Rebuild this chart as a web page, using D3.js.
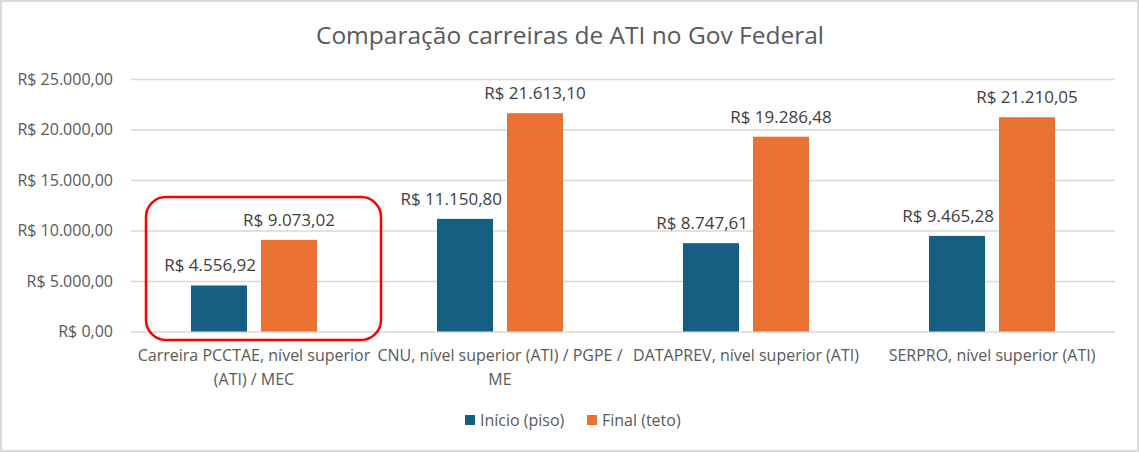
<!DOCTYPE html>
<html><head><meta charset="utf-8">
<script src="https://cdn.jsdelivr.net/npm/d3@7"></script>
<style>body{margin:0;background:#fff}svg{display:block;font-family:"Open Sans",sans-serif}</style>
</head><body><svg id="c" width="1139" height="452"></svg>
<script>
const categories = ["Carreira PCCTAE, nível superior (ATI) / MEC","CNU, nível superior (ATI) / PGPE / ME","DATAPREV, nível superior (ATI)","SERPRO, nível superior (ATI)"];
const seriesNames = ["Início (piso)","Final (teto)"];
const inicio = [4556.92, 11150.80, 8747.61, 9465.28];
const final_ = [9073.02, 21613.10, 19286.48, 21210.05];
const yTicks = [0,5000,10000,15000,20000,25000];
const colors = ["#156082","#E97132"];

const svg = d3.select("#c");
const W=1139,H=452;
svg.append("rect").attr("x",1).attr("y",1).attr("width",W-2).attr("height",H-2).attr("fill","#fff").attr("stroke","#d9d9d9").attr("stroke-width",2);

const x = d3.scaleBand().domain(categories).range([131,1115]);
const y = d3.scaleLinear().domain([0,25000]).range([331.5,79]);
const x1 = d3.scaleBand().domain(seriesNames).range([60,186]).paddingInner(0.2);

const fmt = v => "R$ " + d3.formatLocale({decimal:",",thousands:".",grouping:[3],currency:["",""]}).format(",.2f")(v);

svg.append("text").attr("x",570).attr("y",44).attr("text-anchor","middle").attr("font-size",24.5).attr("fill","#595959").text("Comparação carreiras de ATI no Gov Federal");

const yAxis = svg.append("g").attr("transform","translate(131,0)")
  .call(d3.axisLeft(y).tickValues(yTicks).tickSize(-984).tickPadding(18).tickFormat(fmt));
yAxis.select(".domain").remove();
yAxis.selectAll("line").attr("stroke","#d9d9d9").attr("stroke-width",1.5);
yAxis.selectAll("text").attr("font-size",16).attr("fill","#595959").attr("font-family","Open Sans");

const data = categories.map((c,i)=>({c, vals:[inicio[i], final_[i]]}));
const g = svg.selectAll(".cat").data(data).join("g").attr("transform",d=>`translate(${x(d.c)},0)`);
const items = d=>d.vals.map((v,j)=>({v,s:seriesNames[j],j}));
g.selectAll("rect").data(items).join("rect")
  .attr("x",d=>x1(d.s)).attr("width",x1.bandwidth()).attr("y",d=>y(d.v)).attr("height",d=>y(0)-y(d.v)).attr("fill",d=>colors[d.j]);
g.selectAll("text.lbl").data(items).join("text").attr("class","lbl")
  .attr("x",d=>d.j===0 ? x1(seriesNames[1])-5 : x1(d.s)+x1.bandwidth()/2)
  .attr("text-anchor",d=>d.j===0?"end":"middle")
  .attr("y",d=>y(d.v)-14).attr("font-size",17).attr("fill","#404040").text(d=>fmt(d.v));

const wraps = {
  "Carreira PCCTAE, nível superior (ATI) / MEC":["Carreira PCCTAE, nível superior","(ATI) / MEC"],
  "CNU, nível superior (ATI) / PGPE / ME":["CNU, nível superior (ATI) / PGPE /","ME"]
};
svg.selectAll("text.cat").data(categories).join("text").attr("class","cat")
  .attr("x",d=>x(d)+x.bandwidth()/2).attr("y",361).attr("text-anchor","middle").attr("font-size",16).attr("fill","#595959")
  .each(function(d){
    const lines = wraps[d] || [d];
    d3.select(this).selectAll("tspan").data(lines).join("tspan").attr("x",x(d)+x.bandwidth()/2).attr("dy",(l,i)=>i?24:0).text(l=>l);
  });

svg.append("rect").attr("x",146).attr("y",197).attr("width",235).attr("height",143).attr("rx",20).attr("ry",20)
  .attr("fill","none").attr("stroke","#ff0000").attr("stroke-width",2.5);

const leg = svg.append("g");
const legPos = [465,587];
seriesNames.forEach((s,i)=>{
  leg.append("rect").attr("x",legPos[i]).attr("y",415).attr("width",10).attr("height",10).attr("fill",colors[i]);
  leg.append("text").attr("x",legPos[i]+15).attr("y",426).attr("font-size",16).attr("fill","#595959").text(s);
});
</script></body></html>
